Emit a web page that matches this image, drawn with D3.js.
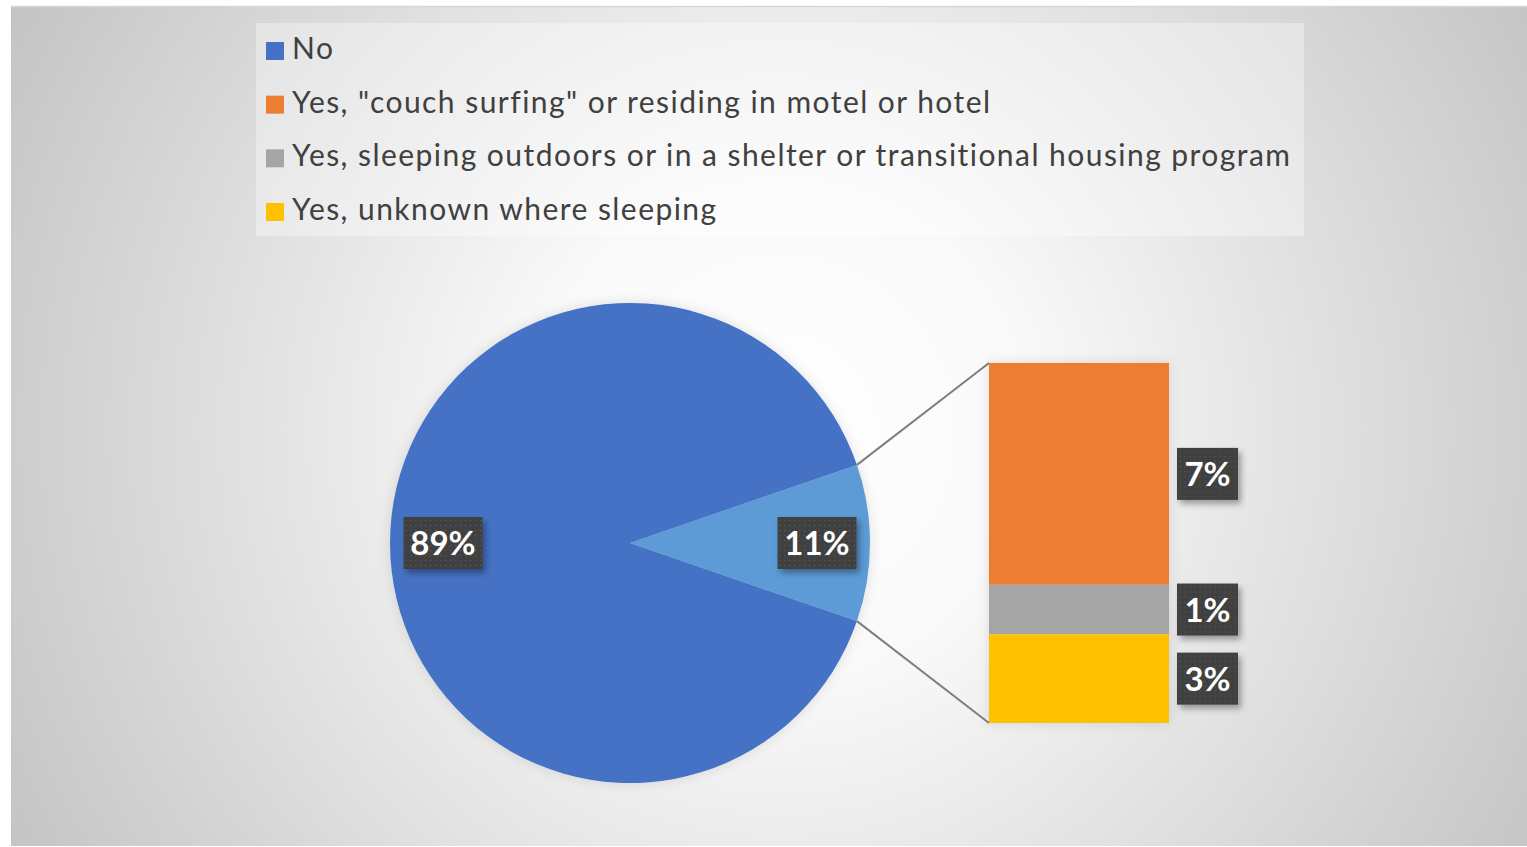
<!DOCTYPE html>
<html>
<head>
<meta charset="utf-8">
<script src="https://cdn.jsdelivr.net/npm/d3@7"></script>
<style>
  body { margin: 0; background: #fff; }
  text { font-family: Lato, "Open Sans", sans-serif; }
</style>
</head>
<body>
<div id="chart"></div>
<script>
const categories = [
  "No",
  "Yes, \"couch surfing\" or residing in motel or hotel",
  "Yes, sleeping outdoors or in a shelter or transitional housing program",
  "Yes, unknown where sleeping"
];
const shares = [0.8945, 0.065, 0.0145, 0.026];
const colors = ["#4472C4", "#ED7D31", "#A5A5A5", "#FFC000"];
const otherColor = "#5B9BD5";

const W = 1527, H = 847;
const area = { x: 11, y: 7, w: 1516, h: 839 };
const pieC = { x: 630, y: 543 }, R = 240;
const bar = { x: 989, w: 180, top: 363, bottom: 723 };

const svg = d3.select("#chart").append("svg")
  .attr("width", W).attr("height", H);

const defs = svg.append("defs");
const bg = defs.append("radialGradient").attr("id", "bg")
  .attr("gradientUnits", "userSpaceOnUse")
  .attr("cx", 780).attr("cy", 430).attr("r", 900);
bg.append("stop").attr("offset", 0).attr("stop-color", "#ffffff");
bg.append("stop").attr("offset", 0.28).attr("stop-color", "#f9f9f9");
bg.append("stop").attr("offset", 1).attr("stop-color", "#c2c2c2");

const dots = defs.append("pattern").attr("id", "dots")
  .attr("patternUnits", "userSpaceOnUse").attr("width", 5).attr("height", 5);
dots.append("rect").attr("width", 5).attr("height", 5).attr("fill", "#404040");
dots.append("rect").attr("x", 2).attr("y", 2).attr("width", 1.2).attr("height", 1.2).attr("fill", "#5a5a5a");

const shadow = defs.append("filter").attr("id", "shadow")
  .attr("x", "-20%").attr("y", "-20%").attr("width", "140%").attr("height", "140%");
shadow.append("feDropShadow").attr("dx", 3).attr("dy", 4).attr("stdDeviation", 3)
  .attr("flood-color", "#000").attr("flood-opacity", 0.35);

const soft = defs.append("filter").attr("id", "soft")
  .attr("x", "-20%").attr("y", "-20%").attr("width", "140%").attr("height", "140%");
soft.append("feDropShadow").attr("dx", 0).attr("dy", 0).attr("stdDeviation", 6)
  .attr("flood-color", "#000").attr("flood-opacity", 0.12);

// chart area
svg.append("rect").attr("x", area.x).attr("y", area.y)
  .attr("width", area.w).attr("height", area.h).attr("fill", "url(#bg)");
svg.append("line").attr("x1", area.x).attr("x2", area.x + area.w)
  .attr("y1", area.y - 0.5).attr("y2", area.y - 0.5)
  .attr("stroke", "#d6d6d6").attr("stroke-width", 1.5);

// legend
const legend = svg.append("g");
legend.append("rect").attr("x", 256).attr("y", 23).attr("width", 1048).attr("height", 213)
  .attr("fill", "#ffffff").attr("opacity", 0.35);
const legY = d3.scalePoint().domain(categories).range([51, 212]);
const items = legend.selectAll("g.item").data(categories).join("g")
  .attr("transform", d => `translate(266,${legY(d)})`);
items.append("rect").attr("y", -9).attr("width", 18).attr("height", 18)
  .attr("fill", (d, i) => colors[i]);
items.append("text").attr("x", 26).attr("y", 8)
  .attr("font-size", 30).attr("letter-spacing", 1.45)
  .attr("fill", "#404040").text(d => d);

// pie: "No" and aggregated "Other"
const otherTotal = d3.sum(shares.slice(1));
const pieData = [otherTotal, shares[0]];
const half = Math.PI * otherTotal;
const pie = d3.pie().sort(null)
  .startAngle(Math.PI / 2 - half).endAngle(Math.PI / 2 - half + 2 * Math.PI);
const arcs = pie(pieData);
const arc = d3.arc().innerRadius(0).outerRadius(R);
const labelArc = d3.arc().innerRadius(187).outerRadius(187);

const pieG = svg.append("g").attr("transform", `translate(${pieC.x},${pieC.y})`);
pieG.append("g").attr("filter", "url(#soft)")
  .selectAll("path").data(arcs).join("path")
  .attr("d", arc).attr("fill", (d, i) => i === 0 ? otherColor : colors[0]);

// bar of "Other"
const y = d3.scaleLinear().domain([0, otherTotal]).range([bar.top, bar.bottom]);
const stack = shares.slice(1).map((v, i) => {
  const start = d3.sum(shares.slice(1, i + 1));
  return { v, start, end: start + v, color: colors[i + 1] };
});

// connector lines
const a0 = arcs[0].startAngle, a1 = arcs[0].endAngle;
const p0 = [pieC.x + R * Math.sin(a0), pieC.y - R * Math.cos(a0)];
const p1 = [pieC.x + R * Math.sin(a1), pieC.y - R * Math.cos(a1)];
svg.append("line").attr("x1", p0[0]).attr("y1", p0[1]).attr("x2", bar.x).attr("y2", y(0))
  .attr("stroke", "#7f7f7f").attr("stroke-width", 2);
svg.append("line").attr("x1", p1[0]).attr("y1", p1[1]).attr("x2", bar.x).attr("y2", y(otherTotal))
  .attr("stroke", "#7f7f7f").attr("stroke-width", 2);

svg.append("g").attr("filter", "url(#soft)")
  .selectAll("rect").data(stack).join("rect")
  .attr("x", bar.x).attr("width", bar.w)
  .attr("y", d => y(d.start)).attr("height", d => y(d.end) - y(d.start))
  .attr("fill", d => d.color);

// data labels
const fmt = d3.format(".0%");
function label(cx, cy, txt, w) {
  const g = svg.append("g").attr("transform", `translate(${cx},${cy})`);
  g.append("rect").attr("x", -w / 2).attr("y", -26).attr("width", w).attr("height", 52)
    .attr("fill", "url(#dots)").attr("filter", "url(#shadow)");
  g.append("text").attr("text-anchor", "middle").attr("y", 12)
    .attr("font-size", 33).attr("font-weight", "bold").attr("fill", "#fff").text(txt);
}
arcs.forEach(d => {
  const c = labelArc.centroid(d);
  label(pieC.x + c[0], pieC.y + c[1], fmt(d.data), 79);
});
stack.forEach(d => {
  label(bar.x + bar.w + 38.5, (y(d.start) + y(d.end)) / 2, fmt(d.v), 61);
});
</script>
</body>
</html>
